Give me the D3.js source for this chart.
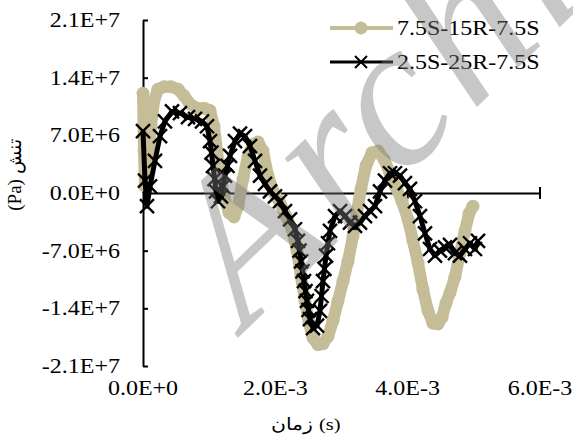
<!DOCTYPE html>
<html>
<head>
<meta charset="utf-8">
<script src="https://cdn.jsdelivr.net/npm/d3@7"></script>
<style>
  body { margin: 0; background: #fff; }
  svg { display: block; font-family: "Liberation Serif", "Times New Roman", serif; }
</style>
</head>
<body>
<script>
// series names (legend):
var seriesNames = ["7.5S-15R-7.5S", "2.5S-25R-7.5S"];

// series 1 (tan) - time in ms, stress in MPa
var timeA = [0, 0.015, 0.030, 0.076, 0.121, 0.166, 0.227, 0.317, 0.423, 0.529, 0.620, 0.710, 0.816, 0.922,
    1.013, 1.073, 1.118, 1.164, 1.224, 1.300, 1.375, 1.436, 1.511, 1.587, 1.662, 1.738, 1.813, 1.889, 1.980,
    2.071, 2.161, 2.252, 2.327, 2.388, 2.448, 2.509, 2.569, 2.645, 2.720, 2.796, 2.872, 2.947, 3.023, 3.098,
    3.174, 3.234, 3.295, 3.370, 3.461, 3.551, 3.642, 3.733, 3.823, 3.914, 4.005, 4.080, 4.156, 4.231, 4.307,
    4.383, 4.458, 4.519, 4.579, 4.640, 4.715, 4.791, 4.866, 4.927, 4.987];
var stressA = [12.1, 5.1, 0.8, 3.9, 8.1, 11.2, 12.6, 12.9, 12.9, 12.6, 11.8, 10.8, 10.3, 10.3,
    10.0, 8.1, 5.1, 2.1, -0.4, -2.4, -2.9, -1.6, 1.7, 4.5, 5.9, 6.2, 5.1, 2.1, 0,
    -1.2, -2.8, -4.4, -7.0, -10.1, -13.1, -15.8, -17.6, -18.4, -18.3, -17.4, -15.5, -13.1, -10.7, -8.3,
    -5.2, -2.2, 0.5, 3.3, 4.9, 5.1, 4.1, 2.4, 0.7, -1.0, -3.2, -5.8, -8.5, -11.7, -14.3,
    -15.8, -15.9, -15.1, -13.4, -12.1, -10.2, -7.3, -4.6, -2.5, -1.6];

// series 2 (black) - time in ms, stress in MPa
var timeB = [0, 0.030, 0.060, 0.106, 0.181, 0.257, 0.332, 0.438, 0.559, 0.680, 0.786, 0.892, 0.967,
    1.013, 1.035, 1.058, 1.081, 1.103, 1.133, 1.179, 1.209, 1.239, 1.277, 1.315, 1.390, 1.466, 1.541, 1.617,
    1.693, 1.768, 1.844, 1.919, 1.995, 2.071, 2.146, 2.222, 2.297, 2.342, 2.365, 2.388, 2.410, 2.433, 2.456,
    2.478, 2.501, 2.524, 2.569, 2.630, 2.675, 2.698, 2.720, 2.743, 2.766, 2.796, 2.826, 2.902, 2.977, 3.053,
    3.128, 3.204, 3.279, 3.355, 3.431, 3.506, 3.582, 3.657, 3.733, 3.808, 3.884, 3.959, 4.035, 4.111, 4.186,
    4.262, 4.337, 4.413, 4.488, 4.564, 4.640, 4.715, 4.791, 4.866, 4.942, 5.017, 5.063];
var stressB = [7.5, 1.5, -1.6, 0.8, 3.9, 6.9, 8.7, 9.9, 9.7, 9.2, 9.0, 8.7, 8.1,
    6.3, 4.9, 3.3, 1.7, 0.2, -1.0, -0.4, 0.8, 2.1, 3.3, 4.5, 6.3, 7.2, 6.9, 5.7,
    3.9, 2.1, 1.1, 0.2, -0.4, -1.0, -2.2, -3.2, -4.4, -5.8, -7.0, -8.3, -9.5, -10.7, -11.9,
    -13.1, -14.2, -15.3, -16.4, -16.1, -14.3, -12.5, -10.7, -9.2, -7.6, -6.1, -4.6, -2.8, -2.2, -2.8,
    -3.6, -4.0, -3.6, -2.8, -2.2, -1.6, 0.2, 1.5, 2.4, 2.4, 2.1, 1.2, 0.5, -1.0, -2.8,
    -4.9, -6.8, -7.6, -7.0, -6.6, -6.3, -7.3, -7.6, -6.8, -6.1, -6.8, -5.8];

// axis ticks:
var xTicks = [0, 2, 4, 6];                    // ms
var yTicks = [-21, -14, -7, 0, 7, 14, 21];    // MPa

window.onload = function(){

    var w = 573, h = 437;
    var tan = "#C4BD97";
    var stretch = 1.2; // text in the picture is drawn a bit wide

    var svg = d3.select("body")
        .append("svg")
        .attr("width", w)
        .attr("height", h);

    // scales:
    var x = d3.scaleLinear().domain([0, 6]).range([143, 540]);
    var y = d3.scaleLinear().domain([-21, 21]).range([366, 20]);

    // "2.1E+7" style labels
    var sci = function(v){
        return d3.format(".1e")(v).toUpperCase().replace(/\u2212/g, "-");
    };

    // text helper (wide glyphs):
    function addText(px, py, str, anchor){
        return svg.append("g")
            .attr("transform", "translate(" + px + "," + py + ") scale(" + stretch + ",1)")
            .append("text")
            .attr("text-anchor", anchor)
            .attr("font-size", 20)
            .attr("fill", "#000")
            .text(str);
    }

    // y axis (ticks point inward):
    var yAxis = d3.axisLeft(y)
        .tickValues(yTicks)
        .tickSize(-5)
        .tickSizeOuter(0)
        .tickFormat("");
    var gy = svg.append("g")
        .attr("transform", "translate(143,0)")
        .call(yAxis);
    gy.selectAll("path, line").attr("stroke", "#000").attr("stroke-width", 2);

    yTicks.forEach(function(d){
        addText(120, y(d) + 7, sci(d * 1e6), "end");
    });

    // x axis crossing at zero:
    var y0 = y(0);
    var xAxis = d3.axisBottom(x)
        .tickValues(xTicks)
        .tickSize(0)
        .tickFormat("");
    var gx = svg.append("g")
        .attr("transform", "translate(0," + y0 + ")")
        .call(xAxis);
    gx.select("path").attr("stroke", "#000").attr("stroke-width", 2);

    svg.selectAll(".xtick")
        .data(xTicks.slice(1))
        .enter()
        .append("line")
        .attr("class", "xtick")
        .attr("x1", function(d){ return x(d); })
        .attr("x2", function(d){ return x(d); })
        .attr("y1", y0 - 6)
        .attr("y2", y0 + 6)
        .attr("stroke", "#000")
        .attr("stroke-width", 2);

    xTicks.forEach(function(d){
        addText(x(d), 395, sci(d * 1e-3), "middle");
    });

    // axis titles:
    svg.append("text")
        .attr("transform", "translate(21,175) rotate(-90)")
        .attr("text-anchor", "middle")
        .attr("font-size", 19)
        .text("(Pa) تنش");
    // word and unit as two pieces so the order stays as in the picture
    addText(313, 430, "زمان", "end").attr("font-size", 17);
    addText(319, 430, "(s)", "start").attr("font-size", 17);

    // series 1 (tan, fat circles):
    var dataA = timeA.map(function(t, i){ return [t, stressA[i]]; });
    var line = d3.line()
        .x(function(d){ return x(d[0]); })
        .y(function(d){ return y(d[1]); });

    svg.append("path")
        .datum(dataA)
        .attr("d", line)
        .attr("fill", "none")
        .attr("stroke", tan)
        .attr("stroke-width", 12)
        .attr("stroke-linejoin", "round")
        .attr("stroke-linecap", "round");

    svg.selectAll(".dotA")
        .data(dataA)
        .enter()
        .append("circle")
        .attr("class", "dotA")
        .attr("cx", function(d){ return x(d[0]); })
        .attr("cy", function(d){ return y(d[1]); })
        .attr("r", 6.5)
        .attr("fill", tan);

    // series 2 (black, x markers):
    var dataB = timeB.map(function(t, i){ return [t, stressB[i]]; });
    var xMark = "M-7,-7L7,7M-7,7L7,-7";

    svg.append("path")
        .datum(dataB)
        .attr("d", line)
        .attr("fill", "none")
        .attr("stroke", "#000")
        .attr("stroke-width", 5)
        .attr("stroke-linejoin", "round");

    svg.selectAll(".markB")
        .data(dataB)
        .enter()
        .append("path")
        .attr("class", "markB")
        .attr("transform", function(d){ return "translate(" + x(d[0]) + "," + y(d[1]) + ")"; })
        .attr("d", xMark)
        .attr("stroke", "#000")
        .attr("stroke-width", 2.4);

    // legend:
    var leg = svg.append("g");
    leg.append("line").attr("x1", 330).attr("x2", 393).attr("y1", 28).attr("y2", 28)
        .attr("stroke", tan).attr("stroke-width", 4);
    leg.append("circle").attr("cx", 361).attr("cy", 28).attr("r", 6.5).attr("fill", tan);
    leg.append("line").attr("x1", 330).attr("x2", 393).attr("y1", 62).attr("y2", 62)
        .attr("stroke", "#000").attr("stroke-width", 3);
    leg.append("path").attr("transform", "translate(361,62)").attr("d", "M-6,-6L6,6M-6,6L6,-6")
        .attr("stroke", "#000").attr("stroke-width", 2);
    addText(397, 35, seriesNames[0], "start");
    addText(397, 69, seriesNames[1], "start");

    // watermark on top:
    svg.append("text")
        .attr("transform", "translate(246,330) rotate(-44)")
        .attr("font-size", 210)
        .attr("font-style", "italic")
        .attr("letter-spacing", 6)
        .attr("fill", "rgb(122,122,122)")
        .attr("fill-opacity", 0.42)
        .text("Archive");
};
</script>
</body>
</html>
